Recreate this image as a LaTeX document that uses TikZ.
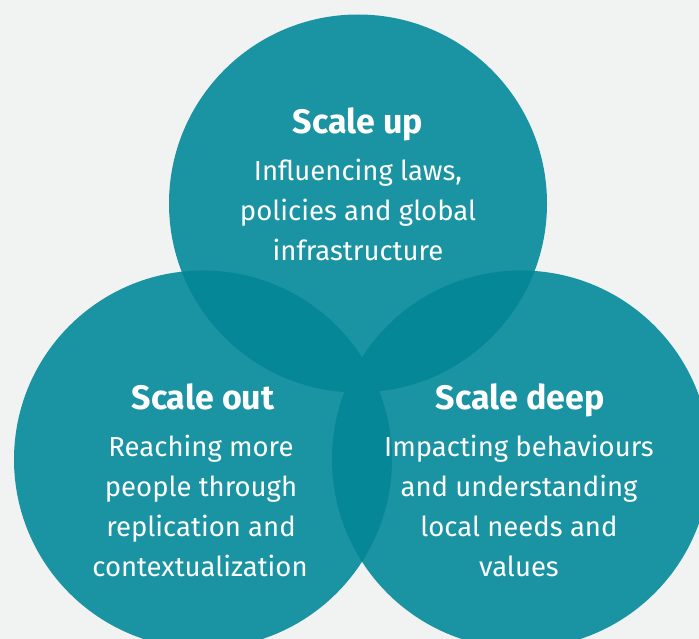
\documentclass[tikz,border=0pt]{standalone}
\usepackage{fontspec}
\setmainfont{Fira Sans}
\definecolor{bgc}{RGB}{241,242,242}
\definecolor{tealc}{RGB}{26,147,163}
\definecolor{tealdark}{RGB}{5,135,152}
\begin{document}
\begin{tikzpicture}[x=1pt,y=-1pt,
  disc/.style={fill=tealc},
  overlap/.style={fill=tealdark},
  title/.style={anchor=base,inner sep=0pt,text=white,font=\fontsize{34}{34}\selectfont\bfseries},
  body/.style={anchor=base,inner sep=0pt,text=white,font=\fontsize{27.5}{27.5}\selectfont}]
% canvas
\fill[bgc] (0,0) rectangle (699,639);
\useasboundingbox (0,0) rectangle (699,639);
\def\rad{189}
\coordinate (cu) at (358,203.5);
\coordinate (cl) at (203,459.5);
\coordinate (cr) at (521,459.5);
% three discs
\fill[disc] (cu) circle[radius=\rad];
\fill[disc] (cl) circle[radius=\rad];
\fill[disc] (cr) circle[radius=\rad];
% darker overlaps
\begin{scope}
  \clip (cu) circle[radius=\rad];
  \fill[overlap] (cl) circle[radius=\rad];
  \fill[overlap] (cr) circle[radius=\rad];
\end{scope}
\begin{scope}
  \clip (cl) circle[radius=\rad];
  \fill[overlap] (cr) circle[radius=\rad];
\end{scope}
% labels: top disc
\node[title] (upT) at (358,134) {Scale up};
\node[body] (up1) at (358,181) {Influencing laws,};
\node[body] (up2) at (358,221) {policies and global};
\node[body] (up3) at (358,261) {infrastructure};
% labels: left disc
\node[title] (outT) at (203,409) {Scale out};
\node[body] (out1) at (201,456) {Reaching more};
\node[body] (out2) at (201,496) {people through};
\node[body] (out3) at (201,536) {replication and};
\node[body] (out4) at (200,576) {contextualization};
% labels: right disc
\node[title] (deepT) at (520,409) {Scale deep};
\node[body] (deep1) at (519,456) {Impacting behaviours};
\node[body] (deep2) at (519,496) {and understanding};
\node[body] (deep3) at (519,536) {local needs and};
\node[body] (deep4) at (519,576) {values};
\end{tikzpicture}
\end{document}
